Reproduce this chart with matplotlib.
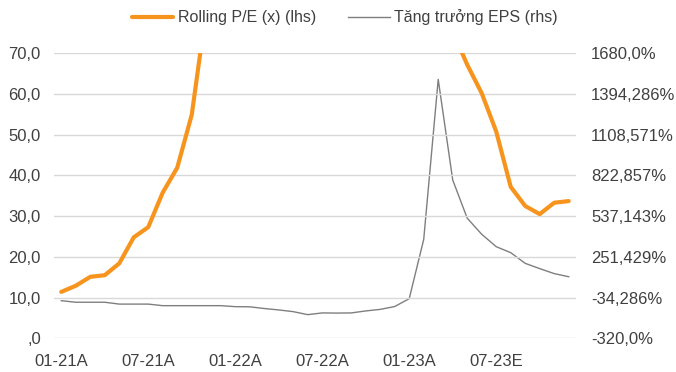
import numpy as np
from matplotlib import pyplot as plt

plt.rcParams['font.family'] = ['Liberation Sans', 'DejaVu Sans']

# monthly categories 01-21 .. 12-23, labelled every 6 months
months = [f"{m:02d}-{y}" for y in (21, 22, 23) for m in range(1, 13)]
tick_idx = [0, 6, 12, 18, 24, 30]
tick_labels = ["01-21A", "07-21A", "01-22A", "07-22A", "01-23A", "07-23E"]

# Rolling P/E (x), left axis; values above 70 run off the chart
rolling_pe = [11.4, 12.9, 15.1, 15.5, 18.4, 24.8, 27.3, 35.8, 41.9, 54.9,
              80.7, 100.0, 120.0, 140.0, 160.0, 175.0, 190.0, 200.0, 210.0,
              205.0, 195.0, 185.0, 170.0, 150.0, 130.0, 110.0, 90.0, 75.4,
              67.2, 60.2, 50.8, 37.2, 32.5, 30.5, 33.3, 33.7]

# EPS growth (%), right axis
eps_growth = [-56, -67, -67, -67, -80, -80, -80, -91, -91, -91, -91, -91,
              -98, -99, -111, -121, -133, -154, -142, -143, -142, -128, -117,
              -97, -42, 374, 1497, 791, 523, 410, 323, 281, 206, 169, 134, 112]

lhs_ticks = [0, 10, 20, 30, 40, 50, 60, 70]
lhs_labels = [",0", "10,0", "20,0", "30,0", "40,0", "50,0", "60,0", "70,0"]
rhs_ticks = [-320 + i * 2000 / 7 for i in range(8)]
rhs_labels = ["-320,0%", "-34,286%", "251,429%", "537,143%", "822,857%",
              "1108,571%", "1394,286%", "1680,0%"]

orange = "#F7941D"
grey_line = "#7F7F7F"
text_col = "#404040"

fig = plt.figure(figsize=(6.76, 3.72), dpi=100)
ax = fig.add_axes([0.0799, 0.0906, 0.852 - 0.0799, 0.8567 - 0.0906])
ax2 = ax.twinx()

x = np.arange(len(months))
ax.plot(x, rolling_pe, color=orange, lw=3.0, solid_capstyle="round",
        solid_joinstyle="round", label="Rolling P/E (x) (lhs)", zorder=3)
ax2.plot(x, eps_growth, color=grey_line, lw=1.0, label="Tăng trưởng EPS (rhs)")

ax.set_zorder(ax2.get_zorder() + 1)
ax.patch.set_visible(False)

ax.set_xlim(-0.5, len(months) - 0.5)
ax.set_ylim(0, 70)
ax2.set_ylim(-320, 1680)

ax.set_yticks(lhs_ticks)
ax.set_yticklabels(lhs_labels)
ax2.set_yticks(rhs_ticks)
ax2.set_yticklabels(rhs_labels)
ax.set_xticks(tick_idx)
ax.set_xticklabels(tick_labels)

for a in (ax, ax2):
    for s in a.spines.values():
        s.set_visible(False)
    a.tick_params(length=0, labelsize=12, colors=text_col)
ax.tick_params(axis="y", pad=9.5)
ax2.tick_params(axis="y", pad=11)
ax.tick_params(axis="x", pad=11)

ax.grid(axis="y", color="#D9D9D9", lw=1.0)
ax.set_axisbelow(True)

h1, l1 = ax.get_legend_handles_labels()
h2, l2 = ax2.get_legend_handles_labels()
leg = fig.legend(h1 + h2, l1 + l2, loc="center", bbox_to_anchor=(0.51, 0.953),
                 ncol=2, frameon=False, fontsize=11.5, handlelength=2.6,
                 handletextpad=0.3, columnspacing=2.0)
for t in leg.get_texts():
    t.set_color(text_col)

fig.savefig("out.png", dpi=100)
